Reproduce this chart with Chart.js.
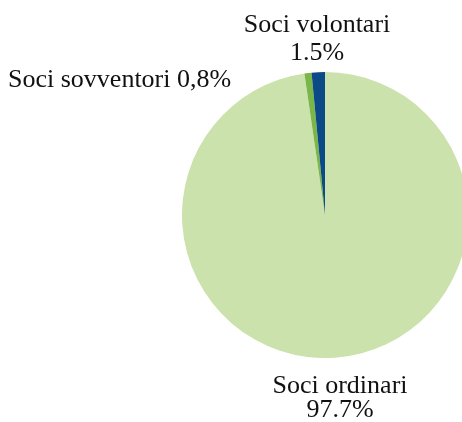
<!DOCTYPE html>
<html>
<head>
<meta charset="utf-8">
<script src="https://cdn.jsdelivr.net/npm/chart.js@4/dist/chart.umd.min.js"></script>
<style>
  html, body { margin: 0; padding: 0; background: #fff; overflow: hidden; }
  #wrap { width: 462px; height: 422px; }
</style>
</head>
<body>
<div id="wrap"><canvas id="pie"></canvas></div>
<script>
// data
const categories = ['Soci ordinari', 'Soci sovventori', 'Soci volontari'];
const shares = [97.7, 0.8, 1.5];
const shareLabels = ['97.7%', '0,8%', '1.5%'];
const colors = ['#cce2ad', '#7ab648', '#0b4a86'];

// outside labels, drawn as text
const labelPlugin = {
    id: 'outsideLabels',
    afterDraw(chart) {
        const c = chart.ctx;
        c.save();
        c.fillStyle = '#111';
        c.font = '26px "Liberation Serif", serif';
        c.textBaseline = 'alphabetic';

        c.textAlign = 'center';
        c.fillText(categories[2], 317, 32);
        c.fillText(shareLabels[2], 317, 60);

        c.textAlign = 'left';
        c.fillText(categories[1] + ' ' + shareLabels[1], 8, 87);

        c.textAlign = 'center';
        c.fillText(categories[0], 340, 393);
        c.fillText(shareLabels[0], 340, 417);
        c.restore();
    }
};

new Chart(document.getElementById('pie'), {
    type: 'pie',
    data: {
        labels: categories,
        datasets: [{
            data: shares,
            backgroundColor: colors,
            borderWidth: 0,
            clip: false,
        }]
    },
    options: {
        responsive: true,
        maintainAspectRatio: false,
        animation: false,
        radius: 143,
        layout: { padding: { left: 188, right: 0, top: 72, bottom: 64 } },
        plugins: {
            legend: { display: false },
            tooltip: { enabled: false }
        }
    },
    plugins: [labelPlugin]
});
</script>
</body>
</html>
